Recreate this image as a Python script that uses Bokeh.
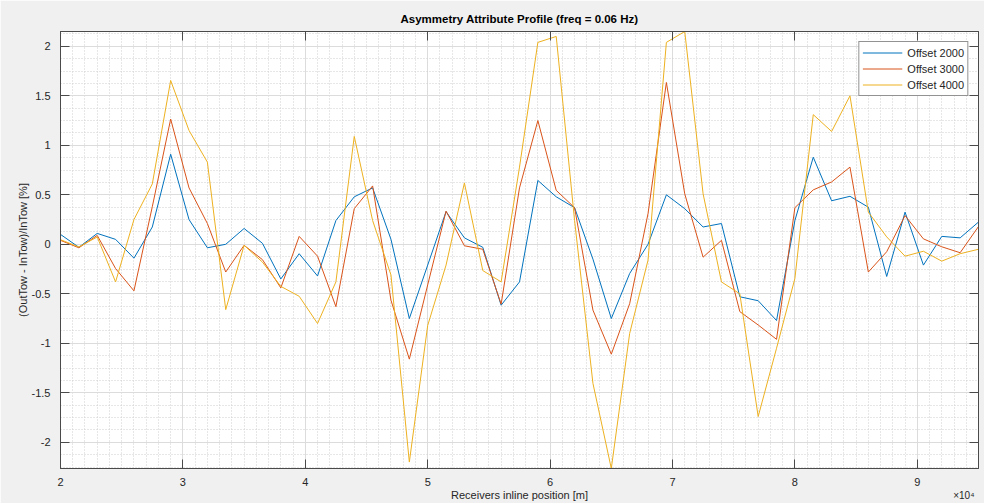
from bokeh.plotting import figure
from bokeh.models import (Range1d, FixedTicker, LinearAxis, Legend, LegendItem)
from bokeh.embed import file_html
from bokeh.resources import INLINE

# ---- data ----
positions = [20000, 21500, 23000, 24500, 26000, 27500, 29000, 30500, 32000, 33500,
             35000, 36500, 38000, 39500, 41000, 42500, 44000, 45500, 47000, 48500,
             50000, 51500, 53000, 54500, 56000, 57500, 59000, 60500, 62000, 63500,
             65000, 66500, 68000, 69500, 71000, 72500, 74000, 75500, 77000, 78500,
             80000, 81500, 83000, 84500, 86000, 87500, 89000, 90500, 92000, 93500,
             95000]

offset_2000 = [0.10, -0.03, 0.11, 0.05, -0.14, 0.175, 0.91, 0.25, -0.035, 0.00,
               0.16, 0.01, -0.35, -0.095, -0.32, 0.24, 0.48, 0.57, 0.05, -0.75,
               -0.21, 0.33, 0.065, -0.03, -0.615, -0.38, 0.645, 0.48, 0.37, -0.15,
               -0.75, -0.295, 0.00, 0.50, 0.36, 0.175, 0.21, -0.53, -0.57, -0.77,
               0.24, 0.88, 0.44, 0.485, 0.375, -0.325, 0.325, -0.21, 0.08, 0.065,
               0.225]

offset_3000 = [0.04, -0.035, 0.09, -0.245, -0.47, 0.38, 1.265, 0.57, 0.21, -0.28,
               -0.01, -0.155, -0.44, 0.08, -0.12, -0.63, 0.36, 0.59, -0.565, -1.16,
               -0.41, 0.335, -0.015, -0.05, -0.605, 0.57, 1.25, 0.545, 0.37, -0.665,
               -1.11, -0.60, 0.31, 1.635, 0.51, -0.13, 0.04, -0.68, -0.815, -0.96,
               0.37, 0.55, 0.63, 0.78, -0.28, -0.075, 0.29, 0.055, -0.025, -0.085,
               0.18]

offset_4000 = [0.047, -0.027, 0.074, -0.38, 0.25, 0.61, 1.655, 1.15, 0.83, -0.66,
               -0.01, -0.18, -0.425, -0.525, -0.80, -0.38, 1.09, 0.24, -0.31, -2.20,
               -0.82, -0.21, 0.62, -0.265, -0.38, 0.78, 2.04, 2.10, 0.24, -1.405,
               -2.265, -0.90, -0.16, 2.04, 2.15, 0.51, -0.38, -0.50, -1.74, -1.05,
               -0.345, 1.31, 1.14, 1.50, 0.325, 0.075, -0.12, -0.07, -0.17, -0.095,
               -0.05]

series_names = ["Offset 2000", "Offset 3000", "Offset 4000"]
series_colors = ["#0072BD", "#D95319", "#EDB120"]

x_ticks = [20000, 30000, 40000, 50000, 60000, 70000, 80000, 90000]
x_tick_labels = ["2", "3", "4", "5", "6", "7", "8", "9"]
x_minor = [20000 + 1000 * k for k in range(76)]
y_ticks = [-2, -1.5, -1, -0.5, 0, 0.5, 1, 1.5, 2]
y_tick_labels = ["-2", "-1.5", "-1", "-0.5", "0", "0.5", "1", "1.5", "2"]
y_minor = [-2.25 + 0.125 * k for k in range(37)]

title_text = "Asymmetry Attribute Profile (freq = 0.06 Hz)"
x_label = "Receivers inline position [m]"
y_label = "(OutTow - InTow)/InTow [%]"
x_exp = "\u00d710\u2074"
x_exp_anchor = 93800   # where the exponent note sits along the x axis

FONT = "Liberation Sans"
TXT = "#262626"
AXC = "#4a4a4a"

all_y = offset_2000 + offset_3000 + offset_4000
W, H = 984, 503
BL, BR, BT, BB = 60, 6, 31, 34

p = figure(width=W, height=H, output_backend="svg", toolbar_location=None,
           title=title_text,
           x_range=Range1d(positions[0], positions[-1]),
           y_range=Range1d(min(all_y), max(all_y)),
           min_border_left=BL, min_border_right=BR,
           min_border_top=BT, min_border_bottom=BB,
           background_fill_color="white", border_fill_color="#f0f0f0",
           outline_line_color=AXC, outline_line_width=1)

p.title.align = "center"
p.title.text_font = FONT
p.title.text_font_size = "11.5px"
p.title.text_font_style = "bold"
p.title.text_color = "black"
p.title.standoff = 5

xt = FixedTicker(ticks=x_ticks, minor_ticks=x_minor)
yt = FixedTicker(ticks=y_ticks, minor_ticks=y_minor)

for ax in p.xaxis:
    ax.ticker = xt
    ax.major_label_overrides = dict(zip(x_ticks, x_tick_labels))
    ax.axis_label = x_label
    ax.major_label_standoff = 5
    ax.axis_label_standoff = 0
for ax in p.yaxis:
    ax.ticker = yt
    ax.major_label_overrides = {v: s for v, s in zip(y_ticks, y_tick_labels)}
    ax.axis_label = y_label
    ax.major_label_standoff = 6
    ax.axis_label_standoff = 0

for ax in list(p.xaxis) + list(p.yaxis):
    ax.major_tick_in = 9
    ax.major_tick_out = 0
    ax.minor_tick_line_color = None
    ax.major_tick_line_color = AXC
    ax.axis_line_color = AXC
    ax.major_label_text_font = FONT
    ax.major_label_text_font_size = "11px"
    ax.major_label_text_color = TXT
    ax.axis_label_text_font = FONT
    ax.axis_label_text_font_size = "11px"
    ax.axis_label_text_font_style = "normal"
    ax.axis_label_text_color = TXT

# mirrored ticks on the right and top (box on), without labels
for loc, tk, ticks in (("right", yt, y_ticks), ("above", xt, x_ticks)):
    a = LinearAxis(ticker=tk, major_tick_in=9, major_tick_out=0,
                   minor_tick_line_color=None, major_tick_line_color=AXC,
                   axis_line_color=AXC, major_label_text_font_size="1px",
                   major_label_text_color=None,
                   major_label_overrides={v: "" for v in ticks},
                   major_label_standoff=0)
    p.add_layout(a, loc)

# exponent note "x10^4" at bottom right, on the x-label row
exp_axis = LinearAxis(ticker=FixedTicker(ticks=[x_exp_anchor], minor_ticks=[]),
                      major_label_overrides={x_exp_anchor: x_exp},
                      major_tick_line_color=None, minor_tick_line_color=None,
                      axis_line_color=None, major_tick_in=0, major_tick_out=0,
                      major_label_standoff=-14, major_label_text_font=FONT,
                      major_label_text_font_size="10px", major_label_text_color=TXT)
p.add_layout(exp_axis, "below")

# grid
for g, tk in ((p.xgrid[0], xt), (p.ygrid[0], yt)):
    g.ticker = tk
    g.grid_line_color = "#dcdcdc"
    g.grid_line_width = 1
    g.minor_grid_line_color = "#cfcfcf"
    g.minor_grid_line_dash = "1 2"
    g.minor_grid_line_width = 1

items = []
for name, ys, col in zip(series_names, [offset_2000, offset_3000, offset_4000], series_colors):
    r = p.line(positions, ys, line_color=col, line_width=1)
    items.append(LegendItem(label=name, renderers=[r]))

legend = Legend(items=items, location="top_right", margin=10, padding=3,
                spacing=1, glyph_width=40, glyph_height=15, label_height=15,
                label_standoff=5, label_text_font=FONT, label_text_font_size="11px",
                label_text_color=TXT, border_line_color="#262626", border_line_width=1,
                background_fill_color="white", background_fill_alpha=1.0)
p.add_layout(legend)

open("out.html", "w").write(file_html(p, INLINE))
